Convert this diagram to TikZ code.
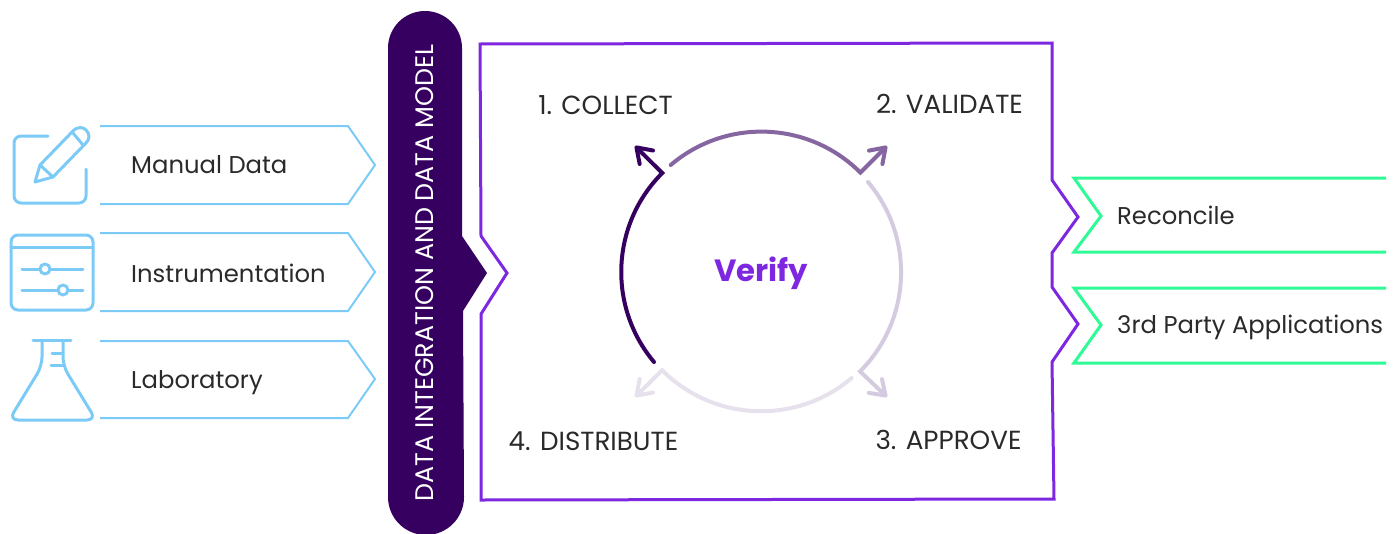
\documentclass[tikz,border=0pt]{standalone}
\usepackage{fontspec}
\usepackage{xcolor}
\usetikzlibrary{arrows.meta}
\setmainfont{Poppins}
\definecolor{skyline}{HTML}{7CCBF7}
\definecolor{mintline}{HTML}{2EFB95}
\definecolor{violetline}{HTML}{7D27E0}
\definecolor{plumband}{HTML}{360061}
\definecolor{labelgrey}{HTML}{2A2A2A}
\definecolor{stageone}{HTML}{360061}
\definecolor{stagetwo}{HTML}{8566A0}
\definecolor{stagethree}{HTML}{D5CBE0}
\definecolor{stagefour}{HTML}{E6E1EC}
\begin{document}
\begin{tikzpicture}[x=1pt, y=-1pt,
    sourcelabel/.style={anchor=base west, inner sep=0pt, text=labelgrey, font=\fontsize{24.3}{28}\selectfont},
    stagelabel/.style={anchor=base, inner sep=0pt, text=labelgrey, font=\fontsize{26.2}{30}\selectfont},
    sourceline/.style={draw=skyline, line width=2pt, line join=miter},
    iconline/.style={draw=skyline, line width=3pt, line cap=round, line join=round},
    targetline/.style={draw=mintline, line width=3pt, line join=miter},
    cyclearrow/.style={line width=4pt, line cap=round, line join=miter, -{Straight Barb[round, length=14pt, width=19pt]}}]
  \useasboundingbox (0,0) rectangle (1400,533);

  \draw[sourceline] (100,126) -- (348,126) -- (375,165) -- (348,204) -- (100,204);
  \draw[sourceline] (100,233) -- (348,233) -- (375,272) -- (348,311) -- (100,311);
  \draw[sourceline] (100,341) -- (348,341) -- (375,379) -- (348,418) -- (100,418);
  \node (manual) [sourcelabel] at (131,173) {Manual Data};
  \node (instrument) [sourcelabel] at (131,282) {Instrumentation};
  \node (laboratory) [sourcelabel] at (131,388) {Laboratory};

  \draw[iconline, rounded corners=7pt] (48,136) -- (14,136) -- (14,203) -- (86,203) -- (86,169);
  \draw[iconline] (35,182) -- (40,165) -- (73,131) .. controls (78,126) and (83,127) .. (86,130) .. controls (90,134) and (90,139) .. (86,143) -- (53,177) -- cycle;
  \draw[iconline] (40,165) -- (53,177) (73,133) -- (83,145);

  \draw[iconline, rounded corners=7pt] (11,235) rectangle (93,310);
  \draw[iconline] (11,247) -- (93,247);
  \draw[iconline] (22,269) -- (83,269) (22,290) -- (83,290);
  \draw[iconline, fill=white] (45,269) circle[radius=5] (63,290) circle[radius=5];

  \draw[iconline] (33,340) -- (71,340);
  \draw[iconline, rounded corners=9pt] (42,340) -- (42,366) -- (9,420) -- (96,420) -- (63,366) -- (63,340);
  \draw[iconline] (52,353) -- (63,353) (51,365) -- (63,365);

  \fill[plumband] (388,48) arc[start angle=180, end angle=360, radius=37] -- (462,236) -- (487,273) -- (463,311) -- (464,497) arc[start angle=0, end angle=180, radius=38] -- cycle;
  \node (platform) [rotate=90, anchor=base, inner sep=0pt, text=white, font=\fontsize{25.4}{30}\selectfont] at (433,273) {DATA INTEGRATION AND DATA MODEL};

  \draw[violetline, line width=3pt, line join=miter] (480,44) -- (1052,43) -- (1052,180) -- (1078,217) -- (1052,253) -- (1052,287) -- (1078,324) -- (1052,362) -- (1054,499) -- (481,500) -- (481,314) -- (507,273) -- (481,236) -- cycle;

  \draw[targetline] (1386,178) -- (1074,178) -- (1101,216) -- (1074,252) -- (1386,252);
  \draw[targetline] (1386,288) -- (1074,288) -- (1101,325) -- (1074,363) -- (1386,363);
  \node (reconcile) [sourcelabel] at (1117,224) {Reconcile};
  \node (thirdparty) [sourcelabel] at (1117,333) {3rd Party Applications};

  \node (collect) [stagelabel] at (605.5,114) {1. COLLECT};
  \node (validate) [stagelabel] at (949.5,113) {2. VALIDATE};
  \node (approve) [stagelabel] at (948.5,449) {3. APPROVE};
  \node (distribute) [stagelabel] at (593.5,450) {4. DISTRIBUTE};
  \node (verify) [anchor=base, inner sep=0pt, text=violetline, font=\fontsize{30.7}{36}\selectfont\bfseries] at (761,281) {Verify};

  \coordinate (collecttip) at (635,146);
  \coordinate (validatetip) at (887,146);
  \coordinate (approvetip) at (887,397);
  \coordinate (distributetip) at (635,397);

  \draw[cyclearrow, stageone] (654,362) arc[start angle=140, end angle=225, radius=140] -- (collecttip);
  \draw[cyclearrow, stagetwo] (670.7,165) arc[start angle=229.6, end angle=315, radius=140] -- (validatetip);
  \draw[cyclearrow, stagethree] (868,182) arc[start angle=-40.2, end angle=45, radius=140] -- (approvetip);
  \draw[cyclearrow, stagefour] (851.7,378) arc[start angle=49.7, end angle=135, radius=140] -- (distributetip);
\end{tikzpicture}
\end{document}
